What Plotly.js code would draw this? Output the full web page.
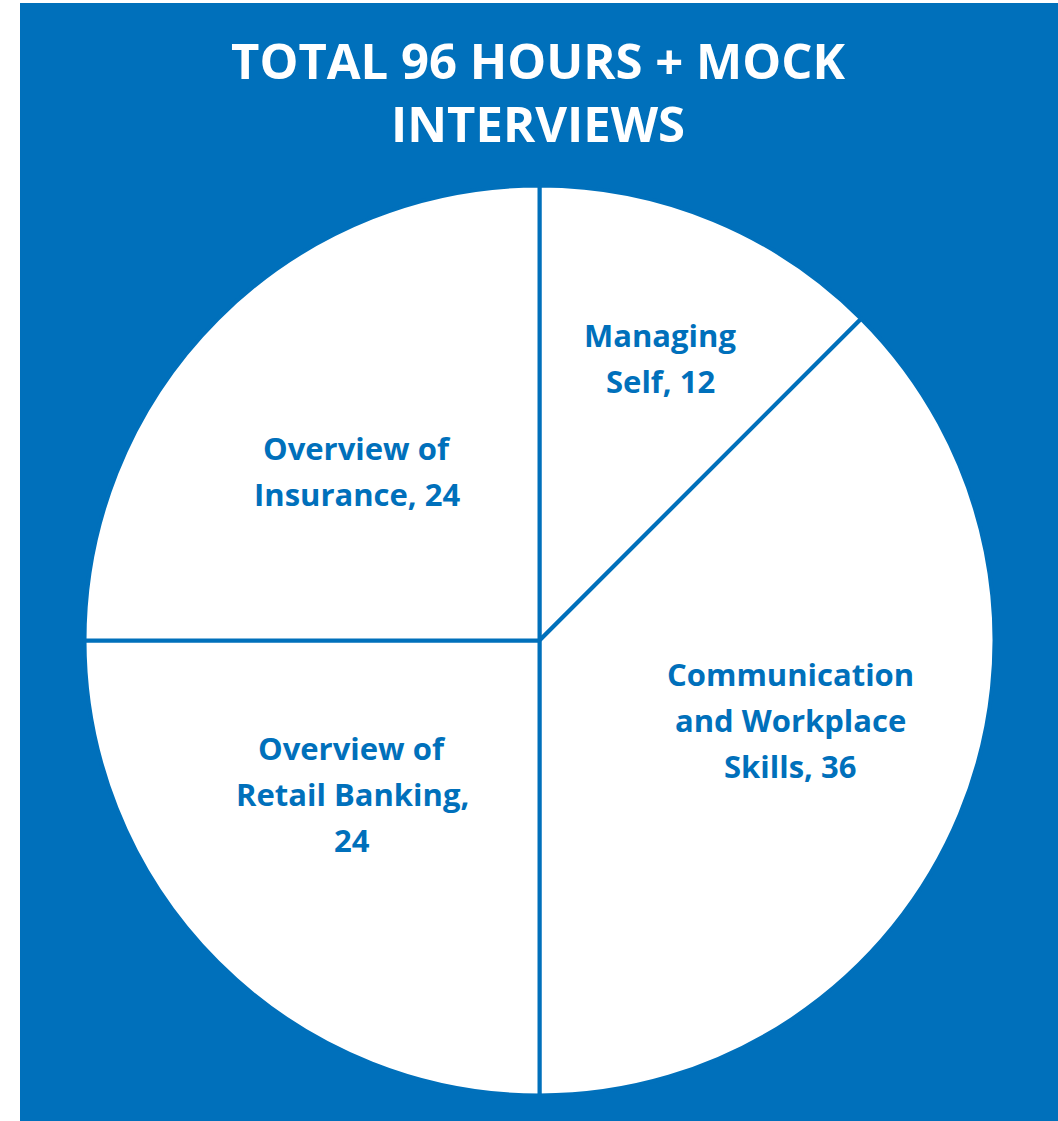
<!DOCTYPE html>
<html>
<head>
<meta charset="utf-8">
<script src="https://cdn.plot.ly/plotly-3.0.1.min.js"></script>
<style>html,body{margin:0;padding:0;background:#fff;}#chart{width:1058px;height:1121px;}</style>
</head>
<body>
<div id="chart"></div>
<script>
const titleLines = ["TOTAL 96 HOURS + MOCK", "INTERVIEWS"];
const categories = ["Managing Self", "Communication and Workplace Skills", "Overview of Retail Banking", "Overview of Insurance"];
const values = [12, 36, 24, 24];
const wrapWidths = [9, 14, 15, 13];
// label centre positions (pixels in the 1058x1121 page)
const labelPosX = [660, 790, 352, 357];
const labelPosY = [358, 720, 794, 471];

const W = 1058, H = 1121;
const BLUE = "#0070BB";

function wrap(text, width) {
  const words = text.split(" ");
  const lines = [];
  let cur = "";
  for (const w of words) {
    const cand = cur ? cur + " " + w : w;
    if (cand.length > width && cur) { lines.push(cur); cur = w; } else { cur = cand; }
  }
  if (cur) lines.push(cur);
  return lines;
}

const annotations = [];
const titleY = [60, 123];
titleLines.forEach((t, i) => {
  annotations.push({
    text: t, x: 538 / W, y: 1 - titleY[i] / H, xref: "paper", yref: "paper",
    xanchor: "center", yanchor: "middle", showarrow: false,
    font: {family: "Open Sans", size: 49, color: "#ffffff", weight: 700}
  });
});

const lineH = 46;
categories.forEach((c, i) => {
  const lines = wrap(c + ", " + values[i], wrapWidths[i]);
  const n = lines.length;
  lines.forEach((ln, j) => {
    const py = labelPosY[i] + (j - (n - 1) / 2) * lineH;
    annotations.push({
      text: ln, x: labelPosX[i] / W, y: 1 - py / H, xref: "paper", yref: "paper",
      xanchor: "center", yanchor: "middle", showarrow: false,
      font: {family: "Open Sans", size: 31, color: BLUE, weight: 700}
    });
  });
});

const cx = 539.5, cy = 640.5, R = 455;
const data = [{
  type: "pie",
  labels: categories,
  values: values,
  sort: false,
  direction: "clockwise",
  rotation: 0,
  textinfo: "none",
  hoverinfo: "label+value",
  marker: {colors: ["#ffffff", "#ffffff", "#ffffff", "#ffffff"], line: {color: BLUE, width: 4}},
  domain: {x: [(cx - R) / W, (cx + R) / W], y: [1 - (cy + R) / H, 1 - (cy - R) / H]},
  showlegend: false
}];

const layout = {
  width: W, height: H,
  margin: {l: 0, r: 0, t: 0, b: 0},
  paper_bgcolor: "#ffffff",
  showlegend: false,
  shapes: [{
    type: "rect", xref: "paper", yref: "paper", layer: "below",
    x0: 20 / W, x1: 1, y0: 0, y1: 1 - 3 / H,
    fillcolor: BLUE, line: {width: 0}
  }],
  annotations: annotations
};

Plotly.newPlot("chart", data, layout, {displayModeBar: false, staticPlot: true});
</script>
</body>
</html>
